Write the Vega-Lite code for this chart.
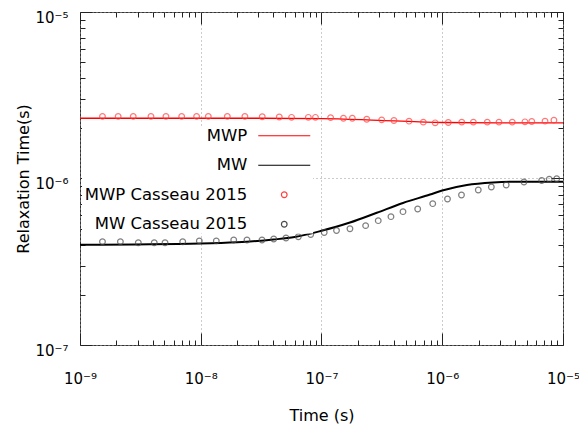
{
  "$schema": "https://vega.github.io/schema/vega-lite/v6.json",
  "width": 483,
  "height": 333,
  "autosize": {"type": "none"},
  "padding": {"left": 80, "top": 12, "right": 16, "bottom": 93},
  "background": "white",
  "config": {
    "font": "DejaVu Sans",
    "view": {"stroke": "#333333", "strokeWidth": 1},
    "axis": {
      "domain": false,
      "tickColor": "#222222",
      "tickWidth": 1,
      "labelFont": "DejaVu Sans",
      "labelFontSize": 15,
      "labelColor": "#000000",
      "titleFont": "DejaVu Sans",
      "titleFontSize": 16,
      "titleFontWeight": "normal",
      "titleColor": "#000000",
      "labelOverlap": false,
      "labelFlush": false,
      "labelBound": false,
      "gridColor": "#999999",
      "gridDash": [1, 3],
      "gridWidth": 1
    }
  },
  "data": {
    "values": [
      {"series": "MWP", "t": 1e-9, "tau": 2.30e-6},
      {"series": "MWP", "t": 1e-8, "tau": 2.30e-6},
      {"series": "MWP", "t": 3e-8, "tau": 2.30e-6},
      {"series": "MWP", "t": 1e-7, "tau": 2.29e-6},
      {"series": "MWP", "t": 3e-7, "tau": 2.235e-6},
      {"series": "MWP", "t": 1e-6, "tau": 2.17e-6},
      {"series": "MWP", "t": 3e-6, "tau": 2.16e-6},
      {"series": "MWP", "t": 1e-5, "tau": 2.16e-6},

      {"series": "MW", "t": 1e-9, "tau": 4.0e-7},
      {"series": "MW", "t": 1e-8, "tau": 4.07e-7},
      {"series": "MW", "t": 2e-8, "tau": 4.14e-7},
      {"series": "MW", "t": 4e-8, "tau": 4.3e-7},
      {"series": "MW", "t": 6e-8, "tau": 4.45e-7},
      {"series": "MW", "t": 1e-7, "tau": 4.85e-7},
      {"series": "MW", "t": 1.3e-7, "tau": 5.11e-7},
      {"series": "MW", "t": 1.72e-7, "tau": 5.44e-7},
      {"series": "MW", "t": 2.87e-7, "tau": 6.23e-7},
      {"series": "MW", "t": 4.73e-7, "tau": 7.13e-7},
      {"series": "MW", "t": 7.92e-7, "tau": 8.01e-7},
      {"series": "MW", "t": 1e-6, "tau": 8.47e-7},
      {"series": "MW", "t": 1.6e-6, "tau": 9.14e-7},
      {"series": "MW", "t": 2.63e-6, "tau": 9.46e-7},
      {"series": "MW", "t": 4.4e-6, "tau": 9.57e-7},
      {"series": "MW", "t": 1e-5, "tau": 9.57e-7},

      {"series": "MWP Casseau 2015", "t": 1.535e-9, "tau": 2.36e-6},
      {"series": "MWP Casseau 2015", "t": 2.07e-9, "tau": 2.36e-6},
      {"series": "MWP Casseau 2015", "t": 2.76e-9, "tau": 2.36e-6},
      {"series": "MWP Casseau 2015", "t": 3.87e-9, "tau": 2.36e-6},
      {"series": "MWP Casseau 2015", "t": 5.15e-9, "tau": 2.36e-6},
      {"series": "MWP Casseau 2015", "t": 6.95e-9, "tau": 2.36e-6},
      {"series": "MWP Casseau 2015", "t": 9.24e-9, "tau": 2.36e-6},
      {"series": "MWP Casseau 2015", "t": 1.155e-8, "tau": 2.36e-6},
      {"series": "MWP Casseau 2015", "t": 1.66e-8, "tau": 2.36e-6},
      {"series": "MWP Casseau 2015", "t": 2.32e-8, "tau": 2.36e-6},
      {"series": "MWP Casseau 2015", "t": 3.23e-8, "tau": 2.35e-6},
      {"series": "MWP Casseau 2015", "t": 4.47e-8, "tau": 2.34e-6},
      {"series": "MWP Casseau 2015", "t": 5.65e-8, "tau": 2.33e-6},
      {"series": "MWP Casseau 2015", "t": 7.78e-8, "tau": 2.33e-6},
      {"series": "MWP Casseau 2015", "t": 8.91e-8, "tau": 2.33e-6},
      {"series": "MWP Casseau 2015", "t": 1.19e-7, "tau": 2.32e-6},
      {"series": "MWP Casseau 2015", "t": 1.52e-7, "tau": 2.30e-6},
      {"series": "MWP Casseau 2015", "t": 1.80e-7, "tau": 2.30e-6},
      {"series": "MWP Casseau 2015", "t": 2.37e-7, "tau": 2.27e-6},
      {"series": "MWP Casseau 2015", "t": 3.15e-7, "tau": 2.25e-6},
      {"series": "MWP Casseau 2015", "t": 3.98e-7, "tau": 2.23e-6},
      {"series": "MWP Casseau 2015", "t": 5.31e-7, "tau": 2.21e-6},
      {"series": "MWP Casseau 2015", "t": 6.97e-7, "tau": 2.18e-6},
      {"series": "MWP Casseau 2015", "t": 8.74e-7, "tau": 2.16e-6},
      {"series": "MWP Casseau 2015", "t": 1.122e-6, "tau": 2.17e-6},
      {"series": "MWP Casseau 2015", "t": 1.45e-6, "tau": 2.18e-6},
      {"series": "MWP Casseau 2015", "t": 1.81e-6, "tau": 2.18e-6},
      {"series": "MWP Casseau 2015", "t": 2.36e-6, "tau": 2.18e-6},
      {"series": "MWP Casseau 2015", "t": 2.95e-6, "tau": 2.18e-6},
      {"series": "MWP Casseau 2015", "t": 3.80e-6, "tau": 2.18e-6},
      {"series": "MWP Casseau 2015", "t": 4.84e-6, "tau": 2.19e-6},
      {"series": "MWP Casseau 2015", "t": 5.51e-6, "tau": 2.20e-6},
      {"series": "MWP Casseau 2015", "t": 7.10e-6, "tau": 2.21e-6},
      {"series": "MWP Casseau 2015", "t": 8.41e-6, "tau": 2.24e-6},

      {"series": "MW Casseau 2015", "t": 1.535e-9, "tau": 4.17e-7},
      {"series": "MW Casseau 2015", "t": 2.16e-9, "tau": 4.17e-7},
      {"series": "MW Casseau 2015", "t": 3.04e-9, "tau": 4.11e-7},
      {"series": "MW Casseau 2015", "t": 4.12e-9, "tau": 4.11e-7},
      {"series": "MW Casseau 2015", "t": 5.06e-9, "tau": 4.11e-7},
      {"series": "MW Casseau 2015", "t": 7.09e-9, "tau": 4.17e-7},
      {"series": "MW Casseau 2015", "t": 9.73e-9, "tau": 4.22e-7},
      {"series": "MW Casseau 2015", "t": 1.345e-8, "tau": 4.22e-7},
      {"series": "MW Casseau 2015", "t": 1.875e-8, "tau": 4.27e-7},
      {"series": "MW Casseau 2015", "t": 2.415e-8, "tau": 4.27e-7},
      {"series": "MW Casseau 2015", "t": 3.215e-8, "tau": 4.27e-7},
      {"series": "MW Casseau 2015", "t": 4.02e-8, "tau": 4.33e-7},
      {"series": "MW Casseau 2015", "t": 5.08e-8, "tau": 4.39e-7},
      {"series": "MW Casseau 2015", "t": 6.43e-8, "tau": 4.47e-7},
      {"series": "MW Casseau 2015", "t": 8.14e-8, "tau": 4.61e-7},
      {"series": "MW Casseau 2015", "t": 1.053e-7, "tau": 4.74e-7},
      {"series": "MW Casseau 2015", "t": 1.331e-7, "tau": 4.87e-7},
      {"series": "MW Casseau 2015", "t": 1.72e-7, "tau": 4.99e-7},
      {"series": "MW Casseau 2015", "t": 2.32e-7, "tau": 5.21e-7},
      {"series": "MW Casseau 2015", "t": 2.95e-7, "tau": 5.58e-7},
      {"series": "MW Casseau 2015", "t": 3.76e-7, "tau": 5.90e-7},
      {"series": "MW Casseau 2015", "t": 4.73e-7, "tau": 6.32e-7},
      {"series": "MW Casseau 2015", "t": 6.26e-7, "tau": 6.56e-7},
      {"series": "MW Casseau 2015", "t": 8.34e-7, "tau": 7.06e-7},
      {"series": "MW Casseau 2015", "t": 1.105e-6, "tau": 7.53e-7},
      {"series": "MW Casseau 2015", "t": 1.443e-6, "tau": 7.96e-7},
      {"series": "MW Casseau 2015", "t": 1.988e-6, "tau": 8.53e-7},
      {"series": "MW Casseau 2015", "t": 2.55e-6, "tau": 8.89e-7},
      {"series": "MW Casseau 2015", "t": 3.385e-6, "tau": 9.14e-7},
      {"series": "MW Casseau 2015", "t": 4.75e-6, "tau": 9.53e-7},
      {"series": "MW Casseau 2015", "t": 6.66e-6, "tau": 9.73e-7},
      {"series": "MW Casseau 2015", "t": 7.70e-6, "tau": 9.90e-7},
      {"series": "MW Casseau 2015", "t": 8.87e-6, "tau": 9.97e-7}
    ]
  },
  "resolve": {"axis": {"x": "independent", "y": "independent"}},
  "layer": [
    {
      "transform": [{"filter": "datum.series == 'MWP' || datum.series == 'MW'"}],
      "mark": {"type": "line", "interpolate": "monotone", "zindex": 1},
      "encoding": {
        "x": {
          "field": "t", "type": "quantitative",
          "scale": {"type": "log", "domain": [1e-9, 1e-5], "nice": false},
          "axis": {
            "orient": "bottom",
            "title": "Time (s)",
            "titleY": 70,
            "titleBaseline": "middle",
            "values": [1e-9, 2e-9, 3e-9, 4e-9, 5e-9, 6e-9, 7e-9, 8e-9, 9e-9,
                       1e-8, 2e-8, 3e-8, 4e-8, 5e-8, 6e-8, 7e-8, 8e-8, 9e-8,
                       1e-7, 2e-7, 3e-7, 4e-7, 5e-7, 6e-7, 7e-7, 8e-7, 9e-7,
                       1e-6, 2e-6, 3e-6, 4e-6, 5e-6, 6e-6, 7e-6, 8e-6, 9e-6, 1e-5],
            "tickSize": {"expr": "abs(log(datum.value)/LN10 - round(log(datum.value)/LN10)) < 0.001 ? -12 : -5"},
            "labelPadding": 38,
            "labelExpr": "abs(log(datum.value)/LN10 - round(log(datum.value)/LN10)) < 0.001 ? '10' + ['⁻⁹','⁻⁸','⁻⁷','⁻⁶','⁻⁵'][round(log(datum.value)/LN10) + 9] : ''",
            "grid": true,
            "gridOpacity": {"condition": {"test": "abs(log(datum.value)/LN10 - round(log(datum.value)/LN10)) < 0.001", "value": 1}, "value": 0}
          }
        },
        "y": {
          "field": "tau", "type": "quantitative",
          "scale": {"type": "log", "domain": [1e-7, 1e-5], "nice": false},
          "axis": {
            "orient": "left",
            "title": "Relaxation Time(s)",
            "titleX": -57,
            "titleY": 166.5,
            "titleAngle": -90,
            "titleBaseline": "middle",
            "values": [1e-7, 2e-7, 3e-7, 4e-7, 5e-7, 6e-7, 7e-7, 8e-7, 9e-7,
                       1e-6, 2e-6, 3e-6, 4e-6, 5e-6, 6e-6, 7e-6, 8e-6, 9e-6, 1e-5],
            "tickSize": {"expr": "abs(log(datum.value)/LN10 - round(log(datum.value)/LN10)) < 0.001 ? -12 : -5"},
            "labelPadding": 24,
            "labelOffset": 5,
            "labelExpr": "abs(log(datum.value)/LN10 - round(log(datum.value)/LN10)) < 0.001 ? '10' + ['⁻⁹','⁻⁸','⁻⁷','⁻⁶','⁻⁵'][round(log(datum.value)/LN10) + 9] : ''",
            "grid": true,
            "gridOpacity": {"condition": {"test": "abs(log(datum.value)/LN10 - round(log(datum.value)/LN10)) < 0.001", "value": 1}, "value": 0}
          }
        },
        "color": {
          "field": "series", "type": "nominal",
          "scale": {
            "domain": ["MWP", "MW", "MWP Casseau 2015", "MW Casseau 2015"],
            "range": ["#ff0000", "#000000", "#ff4040", "#4a4a4a"]
          },
          "legend": {
            "title": null,
            "orient": "none",
            "legendX": 2,
            "legendY": 115.5,
            "zindex": 0,
            "direction": "vertical",
            "fillColor": "white",
            "padding": 0,
            "labelFont": "DejaVu Sans",
            "labelFontSize": 16.5,
            "labelColor": "#000000",
            "labelAlign": "right",
            "labelLimit": 0,
            "labelOffset": -45.25,
            "symbolOffset": 194,
            "symbolSize": 2704,
            "rowPadding": 12.5,
            "encode": {
              "symbols": {
                "update": {
                  "shape": {"signal": "indexof(['MWP','MW'], datum.value) >= 0 ? 'stroke' : 'circle'"},
                  "size": {"signal": "indexof(['MWP','MW'], datum.value) >= 0 ? 2704 : 32"},
                  "strokeWidth": {"value": 1.2},
                  "fill": {"value": "transparent"}
                }
              }
            }
          }
        },
        "strokeWidth": {
          "field": "series", "type": "nominal",
          "scale": {"domain": ["MWP", "MW"], "range": [1.3, 2]},
          "legend": null
        }
      }
    },
    {
      "transform": [{"filter": "datum.series == 'MWP Casseau 2015' || datum.series == 'MW Casseau 2015'"}],
      "mark": {"type": "point", "shape": "circle", "filled": false, "size": 32, "strokeWidth": 1.2, "zindex": 1},
      "encoding": {
        "x": {
          "field": "t", "type": "quantitative",
          "axis": {
            "orient": "top",
            "title": null,
            "labels": false,
            "grid": false,
            "values": [1e-9, 2e-9, 3e-9, 4e-9, 5e-9, 6e-9, 7e-9, 8e-9, 9e-9,
                       1e-8, 2e-8, 3e-8, 4e-8, 5e-8, 6e-8, 7e-8, 8e-8, 9e-8,
                       1e-7, 2e-7, 3e-7, 4e-7, 5e-7, 6e-7, 7e-7, 8e-7, 9e-7,
                       1e-6, 2e-6, 3e-6, 4e-6, 5e-6, 6e-6, 7e-6, 8e-6, 9e-6, 1e-5],
            "tickSize": {"expr": "abs(log(datum.value)/LN10 - round(log(datum.value)/LN10)) < 0.001 ? -12 : -5"}
          }
        },
        "y": {
          "field": "tau", "type": "quantitative",
          "axis": {
            "orient": "right",
            "title": null,
            "labels": false,
            "grid": false,
            "values": [1e-7, 2e-7, 3e-7, 4e-7, 5e-7, 6e-7, 7e-7, 8e-7, 9e-7,
                       1e-6, 2e-6, 3e-6, 4e-6, 5e-6, 6e-6, 7e-6, 8e-6, 9e-6, 1e-5],
            "tickSize": {"expr": "abs(log(datum.value)/LN10 - round(log(datum.value)/LN10)) < 0.001 ? -12 : -5"}
          }
        },
        "color": {"field": "series", "type": "nominal"}
      }
    }
  ]
}
